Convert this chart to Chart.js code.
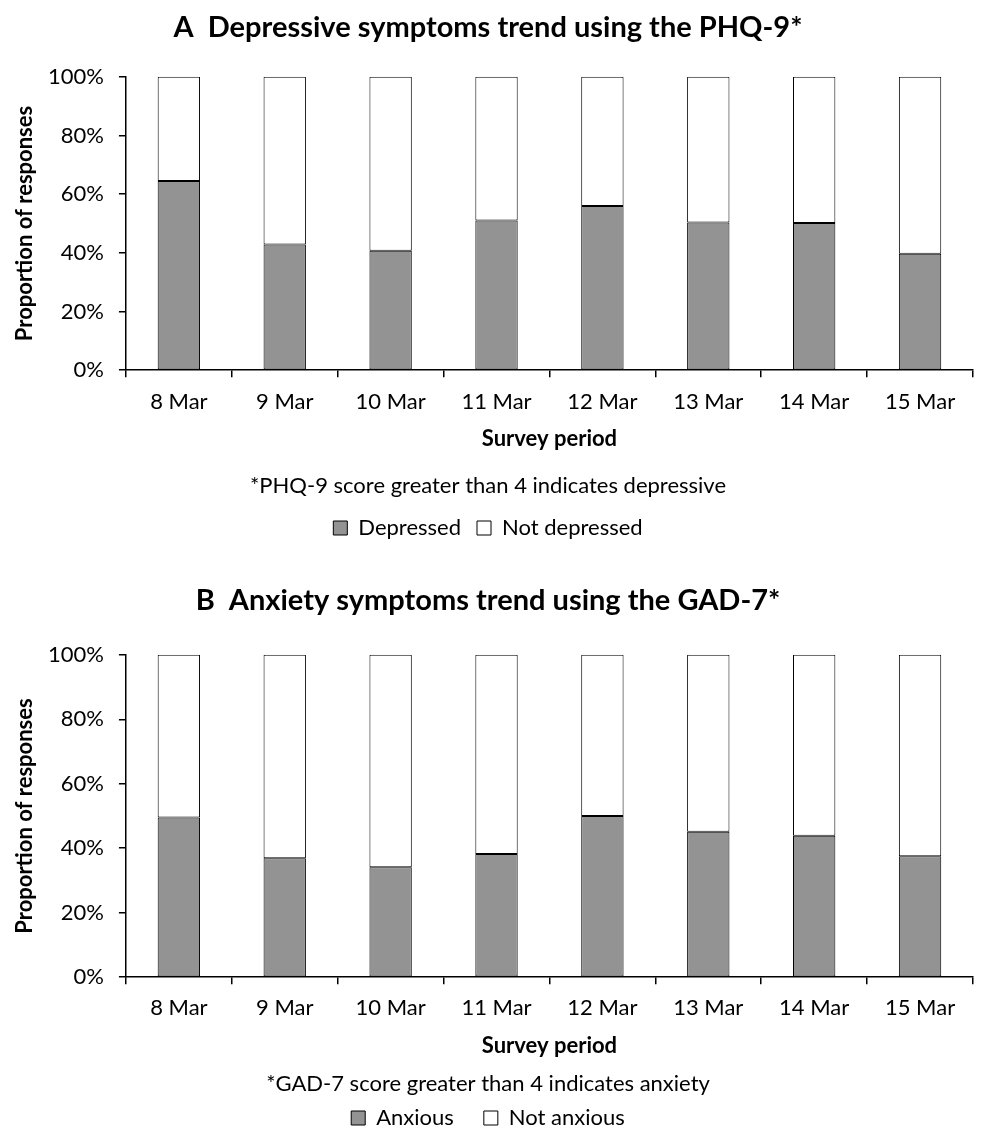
<!DOCTYPE html>
<html>
<head>
<meta charset="utf-8">
<script src="https://cdn.jsdelivr.net/npm/chart.js@4.4.0/dist/chart.umd.min.js"></script>
<style>
  body { margin: 0; background: #fff; overflow: hidden; }
  #wrapA { position: absolute; left: 0; top: 0; width: 981px; height: 549px; }
  #wrapB { position: absolute; left: 0; top: 564px; width: 981px; height: 575px; }
</style>
</head>
<body>
<div id="wrapA"><canvas id="chartA"></canvas></div>
<div id="wrapB"><canvas id="chartB"></canvas></div>
<script>
// survey days (x categories)
const surveyDays = ["8 Mar", "9 Mar", "10 Mar", "11 Mar", "12 Mar", "13 Mar", "14 Mar", "15 Mar"];

// panel A - PHQ-9, percent of responses
const depressed    = [64.5, 42.8, 40.7, 51.0, 56.0, 50.3, 50.2, 39.7];
const notDepressed = [35.5, 57.2, 59.3, 49.0, 44.0, 49.7, 49.8, 60.3];

// panel B - GAD-7, percent of responses
const anxious    = [49.5, 36.9, 34.1, 38.2, 50.0, 45.1, 43.9, 37.5];
const notAnxious = [50.5, 63.1, 65.9, 61.8, 50.0, 54.9, 56.1, 62.5];

const yTicks = [0, 20, 40, 60, 80, 100];

Chart.defaults.font.family = "Lato";
Chart.defaults.color = "#000";

function buildChart(canvasId, s) {
  const ctx = document.getElementById(canvasId).getContext("2d");
  return new Chart(ctx, {
    type: "bar",
    data: {
      labels: surveyDays,
      datasets: [
        {
          label: s.labelOn,
          data: s.on,
          backgroundColor: "#939393",
          borderColor: "#000",
          borderWidth: 1,
          borderSkipped: false,
          categoryPercentage: 1,
          barPercentage: 0.4,
        },
        {
          label: s.labelOff,
          data: s.off,
          backgroundColor: "#fff",
          borderColor: "#000",
          borderWidth: 1,
          borderSkipped: false,
          categoryPercentage: 1,
          barPercentage: 0.4,
        },
      ],
    },
    options: {
      responsive: true,
      maintainAspectRatio: false,
      animation: false,
      layout: {
        padding: { left: 3, right: 8, top: 0, bottom: 0 },
      },
      plugins: {
        title: {
          display: true,
          text: s.title,
          font: { size: 29, weight: "bold" },
          padding: s.titlePad,
        },
        subtitle: {
          display: true,
          position: "bottom",
          text: s.note,
          font: { size: 22 },
          padding: s.notePad,
        },
        legend: {
          position: "bottom",
          weight: 1600,
          labels: {
            boxWidth: 14,
            boxHeight: 14,
            font: { size: 22 },
            padding: s.legendPad,
          },
        },
        tooltip: { enabled: false },
      },
      scales: {
        x: {
          stacked: true,
          grid: {
            offset: true,
            drawOnChartArea: false,
            drawTicks: true,
            tickLength: 7,
            color: "#000",
            lineWidth: 1.5,
          },
          border: { display: true, color: "#000", width: 1.5 },
          ticks: { font: { size: 22 }, padding: s.xTickPad },
          title: {
            display: true,
            text: "Survey period",
            font: { size: 22, weight: "bold", lineHeight: 1 },
            padding: s.xTitlePad,
          },
        },
        y: {
          stacked: true,
          min: 0,
          max: 100,
          afterBuildTicks: (axis) => {
            axis.ticks = yTicks.map((v) => ({ value: v }));
          },
          grid: {
            drawOnChartArea: false,
            drawTicks: true,
            tickLength: 7,
            color: "#000",
            lineWidth: 1.5,
          },
          border: { display: true, color: "#000", width: 1.5 },
          ticks: {
            font: { size: 22 },
            padding: 15,
            callback: (v) => v + "%",
          },
          title: {
            display: true,
            text: "Proportion of responses",
            font: { size: 22, weight: "bold", lineHeight: 1 },
            padding: { top: 11, bottom: -3 },
          },
        },
      },
    },
  });
}

window.diagrammA = buildChart("chartA", {
  title: "A  Depressive symptoms trend using the PHQ-9*",
  note: "*PHQ-9 score greater than 4 indicates depressive",
  labelOn: "Depressed",
  labelOff: "Not depressed",
  on: depressed,
  off: notDepressed,
  titlePad: { top: 10, bottom: 32 },
  xTickPad: 12,
  xTitlePad: { top: 0, bottom: 4 },
  notePad: { top: 19, bottom: 2 },
  legendPad: 16,
});

window.diagrammB = buildChart("chartB", {
  title: "B  Anxiety symptoms trend using the GAD-7*",
  note: "*GAD-7 score greater than 4 indicates anxiety",
  labelOn: "Anxious",
  labelOff: "Not anxious",
  on: anxious,
  off: notAnxious,
  titlePad: { top: 19, bottom: 37 },
  xTickPad: 11,
  xTitlePad: { top: 2, bottom: 4 },
  notePad: { top: 10, bottom: -20 },
  legendPad: 30,
});
</script>
</body>
</html>
